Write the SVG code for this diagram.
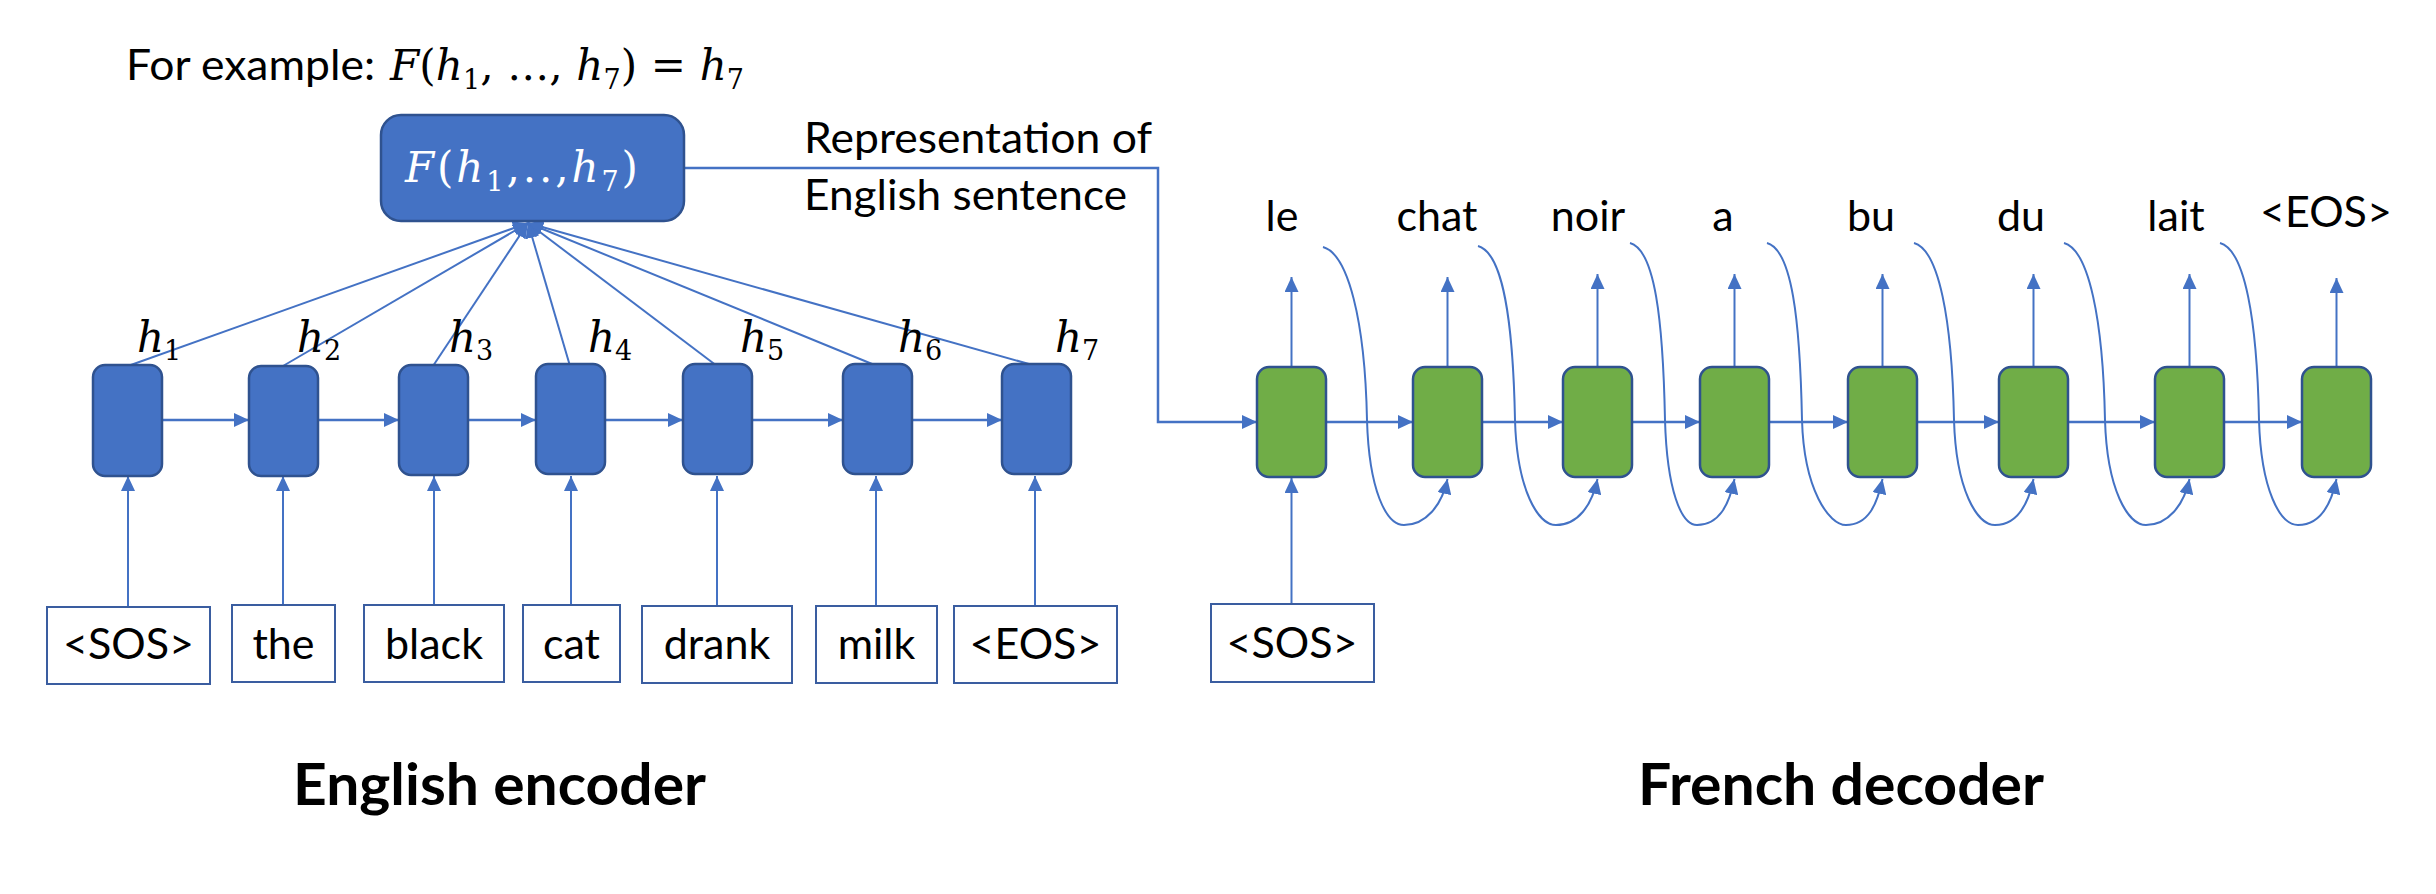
<svg xmlns="http://www.w3.org/2000/svg" width="2436" height="894" viewBox="0 0 2436 894">
<style>
.lbl{font-family:Lato,"Liberation Sans",sans-serif;font-size:43px;fill:#000}
.title{font-family:Lato,"Liberation Sans",sans-serif;font-size:58px;font-weight:bold;fill:#000}
.math{font-family:"DejaVu Serif","Liberation Serif",serif;font-style:italic;font-size:42px;fill:#000}
.sub{font-style:normal;font-size:27px}
.up{font-style:normal}
.enc{fill:#4472C4;stroke:#2F528F;stroke-width:2.5}
.dec{fill:#70AD47;stroke:#2F528F;stroke-width:2.5}
.word{fill:#fff;stroke:#3A5DA0;stroke-width:2}
.con{fill:none;stroke:#4472C4;stroke-width:2.5}
.thin{fill:none;stroke:#4472C4;stroke-width:2}
</style>
<defs>
<marker id="arr" viewBox="0 0 15 14" refX="15" refY="7" markerWidth="15" markerHeight="14" markerUnits="userSpaceOnUse" orient="auto">
<path d="M0,0 L15,7 L0,14 z" fill="#4472C4"/>
</marker>
</defs>

<g id="example-text">
<text class="lbl" x="126" y="80" textLength="249" lengthAdjust="spacingAndGlyphs">For example:</text>
<text class="math" x="390" y="80" textLength="354" lengthAdjust="spacing">F<tspan class="up">(</tspan>h<tspan class="sub" dy="9">1</tspan><tspan class="up" dy="-9">, …, </tspan>h<tspan class="sub" dy="9">7</tspan><tspan class="up" dy="-9">) = </tspan>h<tspan class="sub" dy="9">7</tspan></text>
</g>

<g id="connectors">
<line class="thin" x1="128" y1="366" x2="528" y2="223" marker-end="url(#arr)"/>
<line class="thin" x1="283" y1="366" x2="528" y2="223" marker-end="url(#arr)"/>
<line class="thin" x1="433" y1="366" x2="528" y2="223" marker-end="url(#arr)"/>
<line class="thin" x1="570" y1="366" x2="528" y2="223" marker-end="url(#arr)"/>
<line class="thin" x1="717" y1="366" x2="528" y2="223" marker-end="url(#arr)"/>
<line class="thin" x1="877" y1="366" x2="528" y2="223" marker-end="url(#arr)"/>
<line class="thin" x1="1036" y1="366" x2="528" y2="223" marker-end="url(#arr)"/>
<line class="con" x1="162" y1="420" x2="249" y2="420" marker-end="url(#arr)"/>
<line class="con" x1="318" y1="420" x2="399" y2="420" marker-end="url(#arr)"/>
<line class="con" x1="468" y1="420" x2="536" y2="420" marker-end="url(#arr)"/>
<line class="con" x1="605" y1="420" x2="683" y2="420" marker-end="url(#arr)"/>
<line class="con" x1="752" y1="420" x2="843" y2="420" marker-end="url(#arr)"/>
<line class="con" x1="912" y1="420" x2="1002" y2="420" marker-end="url(#arr)"/>
<line class="thin" x1="128" y1="606" x2="128" y2="476" marker-end="url(#arr)"/>
<line class="thin" x1="283" y1="605" x2="283" y2="476" marker-end="url(#arr)"/>
<line class="thin" x1="434" y1="605" x2="434" y2="476" marker-end="url(#arr)"/>
<line class="thin" x1="571" y1="605" x2="571" y2="476" marker-end="url(#arr)"/>
<line class="thin" x1="717" y1="605" x2="717" y2="476" marker-end="url(#arr)"/>
<line class="thin" x1="876" y1="605" x2="876" y2="476" marker-end="url(#arr)"/>
<line class="thin" x1="1035" y1="605" x2="1035" y2="476" marker-end="url(#arr)"/>
<polyline class="con" points="684,168 1158,168 1158,422 1257,422" marker-end="url(#arr)"/>
<line class="con" x1="1327" y1="422" x2="1413" y2="422" marker-end="url(#arr)"/>
<line class="con" x1="1482" y1="422" x2="1563" y2="422" marker-end="url(#arr)"/>
<line class="con" x1="1632" y1="422" x2="1700" y2="422" marker-end="url(#arr)"/>
<line class="con" x1="1769" y1="422" x2="1848" y2="422" marker-end="url(#arr)"/>
<line class="con" x1="1917" y1="422" x2="1999" y2="422" marker-end="url(#arr)"/>
<line class="con" x1="2068" y1="422" x2="2155" y2="422" marker-end="url(#arr)"/>
<line class="con" x1="2224" y1="422" x2="2302" y2="422" marker-end="url(#arr)"/>
<line class="thin" x1="1291.5" y1="367" x2="1291.5" y2="277" marker-end="url(#arr)"/>
<line class="thin" x1="1447.5" y1="367" x2="1447.5" y2="277" marker-end="url(#arr)"/>
<line class="thin" x1="1597.5" y1="367" x2="1597.5" y2="274" marker-end="url(#arr)"/>
<line class="thin" x1="1734.5" y1="367" x2="1734.5" y2="274" marker-end="url(#arr)"/>
<line class="thin" x1="1882.5" y1="367" x2="1882.5" y2="274" marker-end="url(#arr)"/>
<line class="thin" x1="2033.5" y1="367" x2="2033.5" y2="274" marker-end="url(#arr)"/>
<line class="thin" x1="2189.5" y1="367" x2="2189.5" y2="274" marker-end="url(#arr)"/>
<line class="thin" x1="2336.5" y1="367" x2="2336.5" y2="278" marker-end="url(#arr)"/>
<line class="thin" x1="1291.5" y1="604" x2="1291.5" y2="478" marker-end="url(#arr)"/>
<path class="thin" d="M1323,247 C1348,254 1365,320 1367,420 C1369,490 1386,525 1404,525 C1426,525 1442,505 1447.5,479" marker-end="url(#arr)"/>
<path class="thin" d="M1478,246 C1503,253 1513,320 1515,420 C1517,490 1538,525 1556,525 C1578,525 1592,505 1597.5,479" marker-end="url(#arr)"/>
<path class="thin" d="M1630,243 C1655,250 1663,320 1665,420 C1667,490 1681,525 1697,525 C1719,525 1729,505 1734.5,479" marker-end="url(#arr)"/>
<path class="thin" d="M1767,243 C1792,250 1800,320 1802,420 C1804,490 1829,525 1846,525 C1868,525 1877,505 1882.5,479" marker-end="url(#arr)"/>
<path class="thin" d="M1914,243 C1939,250 1952,320 1954,420 C1956,490 1977,525 1995,525 C2017,525 2028,505 2033.5,479" marker-end="url(#arr)"/>
<path class="thin" d="M2064,243 C2089,250 2103,320 2105,420 C2107,490 2128,525 2146,525 C2168,525 2184,505 2189.5,479" marker-end="url(#arr)"/>
<path class="thin" d="M2220,243 C2245,250 2257,320 2259,420 C2261,490 2280,525 2298,525 C2320,525 2331,505 2336.5,479" marker-end="url(#arr)"/>
</g>

<g id="F-box">
<rect x="381" y="115" width="303" height="106" rx="20" class="enc"/>
<text class="math" style="fill:#fff" x="405" y="182" textLength="233" lengthAdjust="spacing">F<tspan class="up">(</tspan>h<tspan class="sub" dy="9">1</tspan><tspan class="up" dy="-9">,..,</tspan>h<tspan class="sub" dy="9">7</tspan><tspan class="up" dy="-9">)</tspan></text>
</g>

<g id="representation-label">
<text class="lbl" x="804" y="153" textLength="348" lengthAdjust="spacingAndGlyphs">Representation of</text>
<text class="lbl" x="804" y="210" textLength="323" lengthAdjust="spacingAndGlyphs">English sentence</text>
</g>

<g id="enc1"><rect x="93" y="365" width="69" height="111" rx="12" class="enc"/><text class="math" x="137" y="352">h<tspan class="sub" dy="8">1</tspan></text></g>
<g id="enc2"><rect x="249" y="366" width="69" height="110" rx="12" class="enc"/><text class="math" x="297" y="352">h<tspan class="sub" dy="8">2</tspan></text></g>
<g id="enc3"><rect x="399" y="365" width="69" height="110" rx="12" class="enc"/><text class="math" x="449" y="352">h<tspan class="sub" dy="8">3</tspan></text></g>
<g id="enc4"><rect x="536" y="364" width="69" height="110" rx="12" class="enc"/><text class="math" x="588" y="352">h<tspan class="sub" dy="8">4</tspan></text></g>
<g id="enc5"><rect x="683" y="364" width="69" height="110" rx="12" class="enc"/><text class="math" x="740" y="352">h<tspan class="sub" dy="8">5</tspan></text></g>
<g id="enc6"><rect x="843" y="364" width="69" height="110" rx="12" class="enc"/><text class="math" x="898" y="352">h<tspan class="sub" dy="8">6</tspan></text></g>
<g id="enc7"><rect x="1002" y="364" width="69" height="110" rx="12" class="enc"/><text class="math" x="1055" y="352">h<tspan class="sub" dy="8">7</tspan></text></g>

<g id="in-sos"><rect x="47" y="607" width="163" height="77" class="word"/><text class="lbl" x="128.5" y="659" text-anchor="middle">&lt;SOS&gt;</text></g>
<g id="in-the"><rect x="232" y="605" width="103" height="77" class="word"/><text class="lbl" x="283.5" y="659" text-anchor="middle">the</text></g>
<g id="in-black"><rect x="364" y="605" width="140" height="77" class="word"/><text class="lbl" x="434" y="659" text-anchor="middle">black</text></g>
<g id="in-cat"><rect x="523" y="605" width="97" height="77" class="word"/><text class="lbl" x="571.5" y="659" text-anchor="middle">cat</text></g>
<g id="in-drank"><rect x="642" y="606" width="150" height="77" class="word"/><text class="lbl" x="717" y="659" text-anchor="middle">drank</text></g>
<g id="in-milk"><rect x="816" y="606" width="121" height="77" class="word"/><text class="lbl" x="876.5" y="659" text-anchor="middle">milk</text></g>
<g id="in-eos"><rect x="954" y="606" width="163" height="77" class="word"/><text class="lbl" x="1035.5" y="659" text-anchor="middle">&lt;EOS&gt;</text></g>

<g id="dec1"><rect x="1257" y="367" width="69" height="110" rx="12" class="dec"/><text class="lbl" x="1282" y="231" text-anchor="middle">le</text></g>
<g id="dec2"><rect x="1413" y="367" width="69" height="110" rx="12" class="dec"/><text class="lbl" x="1437" y="231" text-anchor="middle">chat</text></g>
<g id="dec3"><rect x="1563" y="367" width="69" height="110" rx="12" class="dec"/><text class="lbl" x="1588" y="231" text-anchor="middle">noir</text></g>
<g id="dec4"><rect x="1700" y="367" width="69" height="110" rx="12" class="dec"/><text class="lbl" x="1723" y="231" text-anchor="middle">a</text></g>
<g id="dec5"><rect x="1848" y="367" width="69" height="110" rx="12" class="dec"/><text class="lbl" x="1871" y="231" text-anchor="middle">bu</text></g>
<g id="dec6"><rect x="1999" y="367" width="69" height="110" rx="12" class="dec"/><text class="lbl" x="2021" y="231" text-anchor="middle">du</text></g>
<g id="dec7"><rect x="2155" y="367" width="69" height="110" rx="12" class="dec"/><text class="lbl" x="2176" y="231" text-anchor="middle">lait</text></g>
<g id="dec8"><rect x="2302" y="367" width="69" height="110" rx="12" class="dec"/><text class="lbl" x="2326" y="227" text-anchor="middle">&lt;EOS&gt;</text></g>

<g id="dec-in-sos"><rect x="1211" y="604" width="163" height="78" class="word"/><text class="lbl" x="1292" y="658" text-anchor="middle">&lt;SOS&gt;</text></g>

<g id="titles">
<text class="title" x="293" y="805" textLength="413" lengthAdjust="spacingAndGlyphs">English encoder</text>
<text class="title" x="1638" y="805" textLength="406" lengthAdjust="spacingAndGlyphs">French decoder</text>
</g>
</svg>
